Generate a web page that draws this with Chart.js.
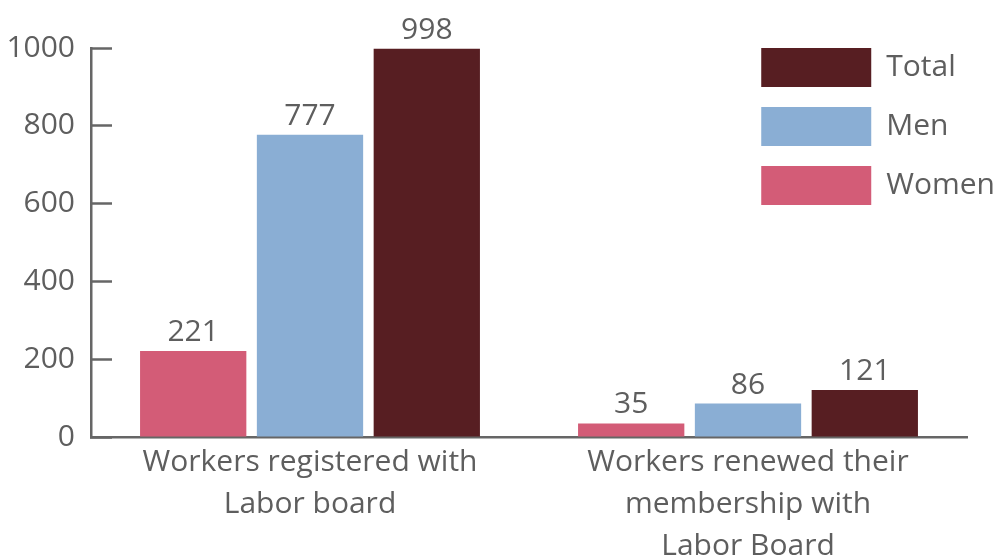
<!DOCTYPE html>
<html>
<head>
<meta charset="utf-8">
<script src="https://cdn.jsdelivr.net/npm/chart.js@4"></script>
<style>
  html, body { margin: 0; padding: 0; background: #fff; }
  #wrap { width: 996px; height: 557px; }
</style>
</head>
<body>
<div id="wrap"><canvas id="laborChart"></canvas></div>
<script>
// Chart data
const categories = [
    ['Workers registered with', 'Labor board'],
    ['Workers renewed their', 'membership with', 'Labor Board']
];
const womenValues = [221, 35];
const menValues = [777, 86];
const totalValues = [998, 121];
const yTicks = [0, 200, 400, 600, 800, 1000];

const textColor = '#5e5e5e';
const axisColor = '#666666';
const fontFamily = '"Open Sans", "Noto Sans", sans-serif';

// Value labels above each bar
const barValueLabels = {
    id: 'barValueLabels',
    afterDatasetsDraw(chart) {
        const ctx = chart.ctx;
        ctx.save();
        ctx.font = '30px ' + fontFamily;
        ctx.fillStyle = textColor;
        ctx.textAlign = 'center';
        ctx.textBaseline = 'alphabetic';
        chart.data.datasets.forEach((ds, i) => {
            chart.getDatasetMeta(i).data.forEach((bar, j) => {
                ctx.fillText(ds.data[j], bar.x, bar.y - 10);
            });
        });
        ctx.restore();
    }
};

// Move the legend to the top right corner, over the plot
const legendTopRight = {
    id: 'legendTopRight',
    afterLayout(chart) {
        const lg = chart.legend;
        lg.left = chart.width - lg.width + 9;
        lg.right = lg.left + lg.width;
        lg.top = chart.chartArea.top - 20;
        lg.bottom = lg.top + lg.height;
    }
};

new Chart(document.getElementById('laborChart'), {
    type: 'bar',
    data: {
        labels: categories,
        datasets: [
            { label: 'Women', data: womenValues, backgroundColor: '#d35c77' },
            { label: 'Men', data: menValues, backgroundColor: '#8aaed4' },
            { label: 'Total', data: totalValues, backgroundColor: '#571e22' }
        ]
    },
    options: {
        responsive: true,
        maintainAspectRatio: false,
        animation: false,
        layout: { padding: { top: 48, right: 29, bottom: 0, left: 0 } },
        datasets: {
            bar: { categoryPercentage: 0.8, barPercentage: 0.91 }
        },
        scales: {
            x: {
                grid: { display: false, drawTicks: false },
                border: { display: true, color: axisColor, width: 2.5 },
                ticks: {
                    color: textColor,
                    font: { family: fontFamily, size: 30, lineHeight: 1.4 },
                    padding: 4,
                    maxRotation: 0,
                    autoSkip: false
                },
                afterFit(scale) { scale.height = 120; }
            },
            y: {
                min: 0,
                max: 1000,
                afterBuildTicks(scale) {
                    scale.ticks = yTicks.map(v => ({ value: v }));
                },
                grid: {
                    drawOnChartArea: false,
                    drawTicks: true,
                    tickLength: -21,
                    color: axisColor,
                    tickWidth: 2.5
                },
                border: { display: true, color: axisColor, width: 2.5 },
                ticks: {
                    color: textColor,
                    font: { family: fontFamily, size: 30 },
                    padding: 37,
                    callback: (value) => String(value)
                },
                afterFit(scale) {
                    scale.width = 91;
                    // tick padding is only there to offset the inward ticks
                    scale.paddingTop = 18;
                    scale.paddingBottom = 18;
                }
            }
        },
        plugins: {
            tooltip: { enabled: false },
            legend: {
                position: 'chartArea',
                align: 'start',
                reverse: true,
                labels: {
                    boxWidth: 110,
                    boxHeight: 39,
                    padding: 20,
                    color: textColor,
                    font: { family: fontFamily, size: 30 }
                }
            }
        }
    },
    plugins: [barValueLabels, legendTopRight]
});
</script>
</body>
</html>
